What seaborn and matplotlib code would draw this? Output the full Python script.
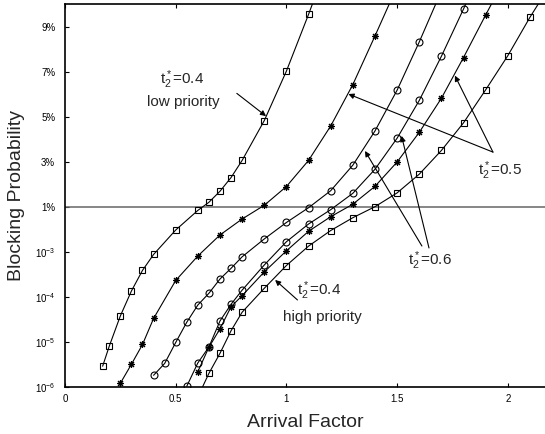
import numpy as np
import pandas as pd
import matplotlib
matplotlib.use('Agg')
import matplotlib.pyplot as plt
import seaborn as sns

# t2*=0.4 low priority (squares)
x_a = [0.17, 0.2, 0.25, 0.3, 0.35, 0.4, 0.5, 0.6, 0.65, 0.7, 0.75, 0.8, 0.9, 1.0, 1.1, 1.2]
p_a = [2.9e-6, 8.1e-6, 3.8e-5, 1.36e-4, 3.9e-4, 8.8e-4, 3.08e-3, 8.4e-3, 0.0121, 0.0170,
       0.0231, 0.0307, 0.0484, 0.0704, 0.0956, 0.122]
# t2*=0.5 first (stars)
x_b = [0.25, 0.3, 0.35, 0.4, 0.5, 0.6, 0.7, 0.8, 0.9, 1.0, 1.1, 1.2, 1.3, 1.4, 1.5]
p_b = [1.21e-6, 3.2e-6, 8.8e-6, 3.33e-5, 2.33e-4, 8.15e-4, 2.39e-3, 5.41e-3, 0.01076, 0.0191,
       0.0307, 0.046, 0.0644, 0.086, 0.108]
# t2*=0.6 first (circles)
x_c = [0.4, 0.45, 0.5, 0.55, 0.6, 0.65, 0.7, 0.75, 0.8, 0.9, 1.0, 1.1, 1.2, 1.3, 1.4, 1.5, 1.6, 1.7]
p_c = [1.82e-6, 3.33e-6, 9.75e-6, 2.75e-5, 6.64e-5, 1.21e-4, 2.51e-4, 4.34e-4, 7.82e-4, 1.95e-3,
       4.53e-3, 9.64e-3, 0.01724, 0.02858, 0.04378, 0.06192, 0.08334, 0.106]
# t2*=0.6 second (circles)
x_d = [0.55, 0.6, 0.65, 0.7, 0.75, 0.8, 0.9, 1.0, 1.1, 1.2, 1.3, 1.4, 1.5, 1.6, 1.7, 1.8, 1.9]
p_d = [1.04e-6, 3.43e-6, 7.74e-6, 2.93e-5, 6.89e-5, 1.42e-4, 5.14e-4, 1.69e-3, 4.19e-3, 8.71e-3,
       0.01608, 0.02676, 0.04058, 0.05734, 0.07698, 0.098, 0.12]
# t2*=0.5 second (stars)
x_e = [0.6, 0.65, 0.7, 0.75, 0.8, 0.9, 1.0, 1.1, 1.2, 1.3, 1.4, 1.5, 1.6, 1.7, 1.8, 1.9, 2.0]
p_e = [2.19e-6, 7.66e-6, 1.96e-5, 6.08e-5, 1.07e-4, 3.61e-4, 1.06e-3, 2.88e-3, 6.09e-3, 0.01124,
       0.01916, 0.03, 0.04316, 0.05832, 0.07644, 0.09534, 0.114]
# t2*=0.4 high priority (squares)
x_f = [0.6, 0.65, 0.7, 0.75, 0.8, 0.9, 1.0, 1.1, 1.2, 1.3, 1.4, 1.5, 1.6, 1.7, 1.8, 1.9, 2.0, 2.1, 2.2]
p_f = [6e-7, 2.01e-6, 5.61e-6, 1.78e-5, 4.59e-5, 1.56e-4, 5.01e-4, 1.35e-3, 3.0e-3, 5.78e-3,
       0.01013, 0.01627, 0.02458, 0.03512, 0.04742, 0.06208, 0.07724, 0.09432, 0.11]

curves = [('a', x_a, p_a, 's', 4.3), ('b', x_b, p_b, (8, 2, 0), 5.0),
          ('c', x_c, p_c, 'o', 5.0), ('d', x_d, p_d, 'o', 5.0),
          ('e', x_e, p_e, (8, 2, 0), 5.0), ('f', x_f, p_f, 's', 4.3)]

y_ticks = [1e-6, 1e-5, 1e-4, 1e-3, 0.01, 0.03, 0.05, 0.07, 0.09]
y_labels = ['$10^{-6}$', '$10^{-5}$', '$10^{-4}$', '$10^{-3}$', '1%', '3%', '5%', '7%', '9%']
x_ticks = [0, 0.5, 1, 1.5, 2]
x_labels = ['0', '0.5', '1', '1.5', '2']


def fwd(p):
    p = np.asarray(p, dtype=float)
    lo = np.log10(np.clip(p, 1e-12, None)) + 6
    hi = 4 + (p - 0.01) / 0.02
    return np.where(p <= 0.01, lo, hi)


def inv(u):
    u = np.asarray(u, dtype=float)
    return np.where(u <= 4, 10 ** (np.minimum(u, 4) - 6), 0.01 + (u - 4) * 0.02)


sns.set_style('ticks')
plt.rcParams['font.family'] = ['Liberation Sans', 'DejaVu Sans']
plt.rcParams['mathtext.fontset'] = 'custom'
plt.rcParams['mathtext.rm'] = 'Liberation Sans'
plt.rcParams['mathtext.it'] = 'Liberation Sans:italic'

fig = plt.figure(figsize=(5.45, 4.34), dpi=100)
ax = fig.add_axes([65 / 545, 47 / 434, 480 / 545, 382.5 / 434])
ax.set_yscale('function', functions=(fwd, inv))

for name, xs, ps, mk, ms in curves:
    df = pd.DataFrame({'x': xs, 'p': ps})
    sns.lineplot(data=df, x='x', y='p', ax=ax, color='k', lw=0.8, marker=mk, ms=ms,
                 mfc='none', mec='k', mew=0.8, sort=False, estimator=None)

ax.axhline(0.01, color='#666666', lw=1.1, zorder=1)

ax.set_xlim(0, 2.168)
ax.set_ylim(1e-6, 0.1)
ax.set_xticks(x_ticks)
ax.set_xticklabels(x_labels)
ax.set_yticks(y_ticks)
ax.set_yticklabels(y_labels)
ax.minorticks_off()
ax.tick_params(axis='both', direction='in', length=3, width=0.8, labelsize=7, colors='k')
ax.tick_params(axis='x', top=True, pad=5)
ax.tick_params(axis='y', pad=7)
ax.spines['right'].set_visible(False)
for s in ['left', 'bottom', 'top']:
    ax.spines[s].set_color('k')
    ax.spines[s].set_linewidth(1.2)

ax.set_xlabel('Arrival Factor', fontsize=14)
ax.set_ylabel('Blocking Probability', fontsize=14)
ax.xaxis.set_label_coords(0.5, -0.07)
ax.yaxis.set_label_coords(-0.083, 0.5)

arrow = dict(arrowstyle='-|>', color='k', lw=0.8, mutation_scale=8, shrinkA=0, shrinkB=0)
t2 = r'$\mathregular{t_2^*}$'

# low priority t2*=0.4
ax.text(0.527, 0.0664, t2 + '=0.4', fontsize=11, ha='center', va='center')
ax.text(0.533, 0.0568, 'low priority', fontsize=11, ha='center', va='center')
ax.annotate('', xy=(0.908, 0.0504), xytext=(0.776, 0.0605), arrowprops=arrow)

# t2*=0.5
ax.text(1.965, 0.026, t2 + '=0.5', fontsize=11, ha='center', va='center')
ax.annotate('', xy=(1.28, 0.0602), xytext=(1.933, 0.0344), arrowprops=arrow)
ax.annotate('', xy=(1.761, 0.0684), xytext=(1.933, 0.0344), arrowprops=arrow)

# t2*=0.6
ax.text(1.649, 6.3e-4, t2 + '=0.6', fontsize=11, ha='center', va='center')
ax.annotate('', xy=(1.355, 0.0349), xytext=(1.612, 1.36e-3), arrowprops=arrow)
ax.annotate('', xy=(1.52, 0.0416), xytext=(1.644, 1.23e-3), arrowprops=arrow)

# high priority t2*=0.4
ax.text(1.147, 1.36e-4, t2 + '=0.4', fontsize=11, ha='center', va='center')
ax.text(1.161, 3.6e-5, 'high priority', fontsize=11, ha='center', va='center')
ax.annotate('', xy=(0.949, 2.39e-4), xytext=(1.05, 8.6e-5), arrowprops=arrow)

fig.savefig('out.png', dpi=100)
